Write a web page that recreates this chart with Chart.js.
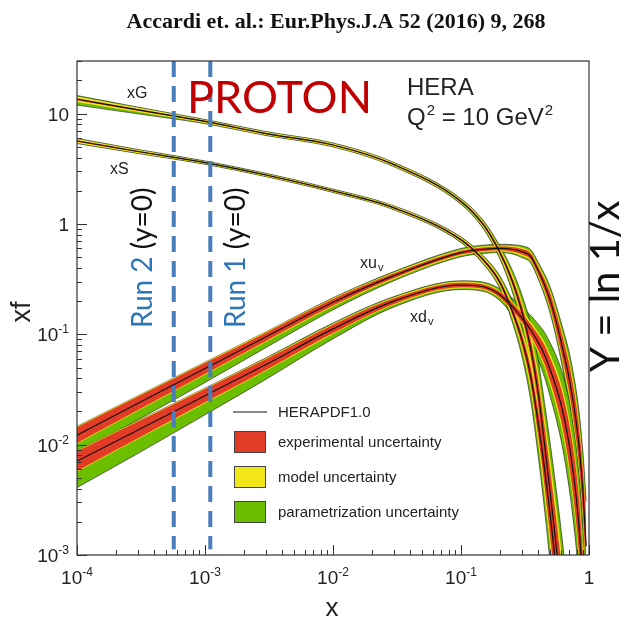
<!DOCTYPE html>
<html>
<head>
<meta charset="utf-8">
<script src="https://cdn.jsdelivr.net/npm/chart.js@4.4.1/dist/chart.umd.min.js"></script>
<style>
  body { margin: 0; background: #fff; }
  #box { width: 624px; height: 627px; }
</style>
</head>
<body>
<div id="box"><canvas id="graf" width="624" height="627"></canvas></div>
<script>
// x grid of the PDF tables
var X = [1e-4, 3e-4, 1e-3, 3e-3, 0.01, 0.03, 0.1, 0.15, 0.2, 0.25, 0.3, 0.35,
         0.4, 0.45, 0.5, 0.55, 0.6, 0.65, 0.7, 0.75, 0.8, 0.85, 0.9, 0.95];

// xG
var gC   = [13.5, 10.8, 8.5, 6.6, 5.2, 3.45, 1.6, 0.98, 0.56, 0.31, 0.16, 0.075, 0.03, 0.01, 0.0035, 0.0013, 0.0005, 0.0002];
var gExp = [0.02, 0.015, 0.012, 0.012, 0.012, 0.015, 0.02, 0.03, 0.05, 0.08, 0.13, 0.2, 0.3, 0.45, 0.6, 0.75, 0.9, 1.0];
var gMod = [0.04, 0.03, 0.02, 0.02, 0.02, 0.02, 0.02, 0.03, 0.04, 0.07, 0.1, 0.15, 0.22, 0.3, 0.4, 0.5, 0.6, 0.7];
var gPu  = [0.02, 0.015, 0.01, 0.01, 0.01, 0.01, 0.02, 0.03, 0.05, 0.1, 0.18, 0.3, 0.45, 0.6, 0.8, 1.0, 1.2, 1.4];
var gPd  = [0.07, 0.04, 0.015, 0.01, 0.01, 0.01, 0.02, 0.03, 0.05, 0.1, 0.18, 0.3, 0.45, 0.6, 0.8, 1.0, 1.2, 1.4];

// xS
var sC   = [5.65, 4.54, 3.6, 2.78, 2.0, 1.4, 0.72, 0.47, 0.30, 0.165, 0.088, 0.042, 0.016, 0.006, 0.0022, 0.0008, 0.0003];
var sExp = [0.015, 0.012, 0.01, 0.01, 0.01, 0.012, 0.02, 0.03, 0.05, 0.08, 0.13, 0.2, 0.3, 0.45, 0.6, 0.75, 0.9];
var sMod = [0.03, 0.02, 0.015, 0.015, 0.015, 0.02, 0.02, 0.03, 0.04, 0.07, 0.1, 0.15, 0.22, 0.3, 0.4, 0.5, 0.6];
var sPu  = [0.01, 0.01, 0.01, 0.01, 0.01, 0.01, 0.02, 0.03, 0.05, 0.1, 0.18, 0.3, 0.45, 0.6, 0.8, 1.0, 1.2];
var sPd  = [0.01, 0.01, 0.01, 0.01, 0.01, 0.01, 0.02, 0.03, 0.05, 0.1, 0.18, 0.3, 0.45, 0.6, 0.8, 1.0, 1.2];

// xu_v
var uC   = [0.0122, 0.0237, 0.049, 0.095, 0.195, 0.34, 0.55, 0.59, 0.6, 0.59, 0.56, 0.51, 0.38, 0.28, 0.2, 0.135, 0.09, 0.06, 0.04, 0.025, 0.015, 0.008, 0.0035, 0.0012];
var uExp = [0.18, 0.15, 0.12, 0.09, 0.07, 0.05, 0.04, 0.04, 0.04, 0.05, 0.06, 0.07, 0.09, 0.12, 0.16, 0.2, 0.25, 0.3, 0.35, 0.4, 0.45, 0.5, 0.6, 0.7];
var uMod = [0.02, 0.02, 0.02, 0.02, 0.02, 0.02, 0.02, 0.02, 0.02, 0.02, 0.03, 0.03, 0.04, 0.05, 0.06, 0.07, 0.08, 0.1, 0.12, 0.14, 0.16, 0.18, 0.2, 0.25];
var uPu  = [0, 0, 0, 0, 0.01, 0.02, 0.03, 0.03, 0.03, 0.03, 0.04, 0.05, 0.06, 0.08, 0.1, 0.12, 0.15, 0.2, 0.25, 0.3, 0.35, 0.4, 0.5, 0.6];
var uPd  = [0.25, 0.24, 0.2, 0.14, 0.08, 0.04, 0.03, 0.03, 0.03, 0.03, 0.04, 0.05, 0.06, 0.08, 0.1, 0.12, 0.15, 0.2, 0.25, 0.3, 0.35, 0.4, 0.5, 0.6];

// xd_v
var dC   = [0.0071, 0.0136, 0.0278, 0.0533, 0.112, 0.2, 0.28, 0.27, 0.23, 0.18, 0.14, 0.11, 0.085, 0.065, 0.047, 0.034, 0.024, 0.016, 0.01, 0.0058, 0.0031, 0.0014, 0.0005];
var dExp = [0.23, 0.19, 0.15, 0.12, 0.09, 0.06, 0.05, 0.05, 0.06, 0.08, 0.1, 0.13, 0.17, 0.22, 0.28, 0.34, 0.4, 0.47, 0.55, 0.63, 0.72, 0.8, 0.9];
var dMod = [0.02, 0.02, 0.02, 0.02, 0.02, 0.02, 0.02, 0.02, 0.02, 0.03, 0.04, 0.05, 0.06, 0.08, 0.1, 0.12, 0.14, 0.16, 0.18, 0.2, 0.22, 0.25, 0.28];
var dPu  = [0, 0, 0, 0.01, 0.02, 0.02, 0.02, 0.03, 0.05, 0.08, 0.12, 0.17, 0.23, 0.3, 0.38, 0.46, 0.55, 0.65, 0.75, 0.85, 0.95, 1.05, 1.15];
var dPd  = [0.49, 0.42, 0.32, 0.22, 0.12, 0.05, 0.03, 0.03, 0.05, 0.08, 0.12, 0.17, 0.23, 0.3, 0.38, 0.46, 0.55, 0.65, 0.75, 0.85, 0.95, 1.05, 1.15];

// Run 1 / Run 2 reach (y=0) and vertical extent of the dashed lines
var runX = [5.7e-4, 1.1e-3];
var runY = [30, 0.00113];

var cervena = '#e23b26', zluta = '#f3e61a', zelena = '#6cbf00', okraj = 'rgba(40,40,40,0.85)';

function body(c, f) {
  return X.map(function (x, i) {
    return { x: x, y: c[i] == null ? null : f(c[i], i) };
  });
}

function ds(data, opt) {
  var d = { data: data, pointRadius: 0, borderWidth: 0, borderColor: 'rgba(0,0,0,0)',
            fill: false, cubicInterpolationMode: 'monotone' };
  for (var k in opt) d[k] = opt[k];
  return d;
}

var sady = [];
// one PDF = green (total), yellow (exp+model), red (exp) bands and the central line
function pasmo(c, e, m, pu, pd) {
  sady.push(ds(body(c, function (v, i) { return v * (1 + e[i] + m[i] + pu[i]); }),
    { order: 30, borderColor: okraj, borderWidth: 0.8 }));
  sady.push(ds(body(c, function (v, i) { return v / (1 + e[i] + m[i] + pd[i]); }),
    { order: 30, borderColor: okraj, borderWidth: 0.8, fill: '-1', backgroundColor: zelena }));
  sady.push(ds(body(c, function (v, i) { return v * (1 + e[i] + m[i]); }), { order: 20 }));
  sady.push(ds(body(c, function (v, i) { return v / (1 + e[i] + m[i]); }),
    { order: 20, fill: '-1', backgroundColor: zluta }));
  sady.push(ds(body(c, function (v, i) { return v * (1 + e[i]); }), { order: 10 }));
  sady.push(ds(body(c, function (v, i) { return v / (1 + e[i]); }),
    { order: 10, fill: '-1', backgroundColor: cervena }));
  sady.push(ds(body(c, function (v) { return v; }),
    { order: 5, borderColor: '#111', borderWidth: 1.2 }));
}
pasmo(gC, gExp, gMod, gPu, gPd);
pasmo(sC, sExp, sMod, sPu, sPd);
pasmo(dC, dExp, dMod, dPu, dPd);
pasmo(uC, uExp, uMod, uPu, uPd);

runX.forEach(function (rx) {
  sady.push(ds(runY.map(function (ry) { return { x: rx, y: ry }; }),
    { order: 1, borderColor: '#4a7ebb', borderWidth: 4, borderDash: [16, 9],
      cubicInterpolationMode: 'default', tension: 0 }));
});

var PISMO = '"Liberation Sans", Arial, sans-serif';

// 10 with a raised exponent
function mocnina(c, base, ex, x, y, align) {
  c.font = '19px ' + PISMO;
  var w1 = c.measureText(base).width;
  c.font = '12px ' + PISMO;
  var w2 = ex ? c.measureText(ex).width : 0;
  var x0 = align == 'right' ? x - w1 - w2 : x - (w1 + w2) / 2;
  c.textAlign = 'left';
  c.textBaseline = 'alphabetic';
  c.font = '19px ' + PISMO;
  c.fillText(base, x0, y);
  if (ex) {
    c.font = '12px ' + PISMO;
    c.fillText(ex, x0 + w1, y - 8);
  }
}

// vertical text, reading bottom to top; parts = [[text, colour], ...]
function svisle(c, parts, x, y, font) {
  c.save();
  c.translate(x, y);
  c.rotate(-Math.PI / 2);
  c.font = font;
  c.textAlign = 'left';
  c.textBaseline = 'alphabetic';
  var pos = 0;
  parts.forEach(function (p) {
    c.fillStyle = p[1];
    c.fillText(p[0], pos, 0);
    pos += c.measureText(p[0]).width;
  });
  c.restore();
}

var popisky = {
  id: 'popisky',
  afterDatasetsDraw: function (chart) {
    var c = chart.ctx, a = chart.chartArea, sx = chart.scales.x, sy = chart.scales.y;
    c.save();
    c.strokeStyle = '#333';
    c.fillStyle = '#222';

    // frame
    c.lineWidth = 1.2;
    c.strokeRect(a.left, a.top, a.right - a.left, a.bottom - a.top);

    // inward ticks
    c.lineWidth = 1;
    var k, m, v, p;
    for (k = -4; k <= 0; k++) {
      for (m = 1; m <= 9; m++) {
        v = m * Math.pow(10, k);
        if (v > 1) break;
        p = Math.round(sx.getPixelForValue(v)) + 0.5;
        c.beginPath();
        c.moveTo(p, a.bottom);
        c.lineTo(p, a.bottom - (m == 1 ? 10 : 5));
        c.stroke();
      }
    }
    for (k = -3; k <= 1; k++) {
      for (m = 1; m <= 9; m++) {
        v = m * Math.pow(10, k);
        if (v > 30) break;
        p = Math.round(sy.getPixelForValue(v)) + 0.5;
        c.beginPath();
        c.moveTo(a.left, p);
        c.lineTo(a.left + (m == 1 ? 10 : 5), p);
        c.stroke();
      }
    }

    // tick labels
    var xl = [['10', '-4', 1e-4], ['10', '-3', 1e-3], ['10', '-2', 1e-2], ['10', '-1', 1e-1], ['1', '', 1]];
    xl.forEach(function (t) { mocnina(c, t[0], t[1], sx.getPixelForValue(t[2]), a.bottom + 29, 'center'); });
    var yl = [['10', '', 10], ['1', '', 1], ['10', '-1', 0.1], ['10', '-2', 0.01], ['10', '-3', 0.001]];
    yl.forEach(function (t) { mocnina(c, t[0], t[1], a.left - 8, sy.getPixelForValue(t[2]) + 7, 'right'); });

    // axis titles
    c.font = '26px ' + PISMO;
    c.textAlign = 'center';
    c.fillText('x', 332, 616);
    c.restore();
    c.save();
    c.fillStyle = '#222';
    c.translate(30, 312);
    c.rotate(-Math.PI / 2);
    c.font = '27px ' + PISMO;
    c.textAlign = 'center';
    c.fillText('xf', 0, 0);
    c.restore();

    c.save();
    c.fillStyle = '#222';
    // curve names
    c.font = '16px ' + PISMO;
    c.textAlign = 'left';
    c.fillText('xG', 127, 98);
    c.fillText('xS', 110, 174);
    c.fillText('xu', 360, 268);
    c.fillText('xd', 410, 322);
    c.font = '11px ' + PISMO;
    c.fillText('v', 378, 271);
    c.fillText('v', 428, 325);

    // HERA, Q2
    c.font = '24px ' + PISMO;
    c.fillText('HERA', 407, 95);
    c.fillText('Q', 407, 125);
    var q = 407 + c.measureText('Q').width;
    c.font = '15px ' + PISMO;
    c.fillText('2', q + 1, 115);
    q += c.measureText('2').width + 1;
    c.font = '24px ' + PISMO;
    c.fillText(' = 10 GeV', q, 125);
    q += c.measureText(' = 10 GeV').width;
    c.font = '15px ' + PISMO;
    c.fillText('2', q + 1, 115);

    // legend
    c.strokeStyle = '#111';
    c.lineWidth = 1.2;
    c.beginPath();
    c.moveTo(233, 412);
    c.lineTo(267, 412);
    c.stroke();
    c.font = '15px ' + PISMO;
    c.fillText('HERAPDF1.0', 278, 417);
    var leg = [[cervena, 'experimental uncertainty', 431], [zluta, 'model uncertainty', 466],
               [zelena, 'parametrization uncertainty', 501]];
    leg.forEach(function (l) {
      c.fillStyle = l[0];
      c.fillRect(234, l[2], 32, 22);
      c.strokeStyle = '#444';
      c.lineWidth = 1;
      c.strokeRect(234.5, l[2] + 0.5, 31, 21);
      c.fillStyle = '#222';
      c.fillText(l[1], 278, l[2] + 16);
    });

    // title and overlay labels
    c.fillStyle = '#111';
    c.font = 'bold 22px "Liberation Serif", "Times New Roman", serif';
    c.textAlign = 'center';
    c.fillText('Accardi et. al.: Eur.Phys.J.A 52 (2016) 9, 268', 336, 28);
    c.textAlign = 'left';
    c.fillStyle = '#c00000';
    c.font = '45px Lato, sans-serif';
    c.fillText('PROTON', 187, 113);
    c.restore();

    svisle(c, [['Run 2 ', '#2e75b6'], ['(y=0)', '#111']], 152, 328, '28px Lato, sans-serif');
    svisle(c, [['Run 1 ', '#2e75b6'], ['(y=0)', '#111']], 245, 328, '28px Lato, sans-serif');
    svisle(c, [['Y = ln 1/x', '#111']], 619, 372, '40px Lato, sans-serif');
  }
};

new Chart(document.getElementById('graf'), {
  type: 'line',
  data: { datasets: sady },
  options: {
    responsive: false,
    animation: false,
    layout: { padding: { left: 77, top: 61, right: 35, bottom: 72 } },
    plugins: { legend: { display: false }, tooltip: { enabled: false } },
    elements: { point: { radius: 0 } },
    scales: {
      x: { type: 'logarithmic', min: 1e-4, max: 1, display: false },
      y: { type: 'logarithmic', min: 1e-3, max: 30, display: false }
    }
  },
  plugins: [popisky]
});
</script>
</body>
</html>
